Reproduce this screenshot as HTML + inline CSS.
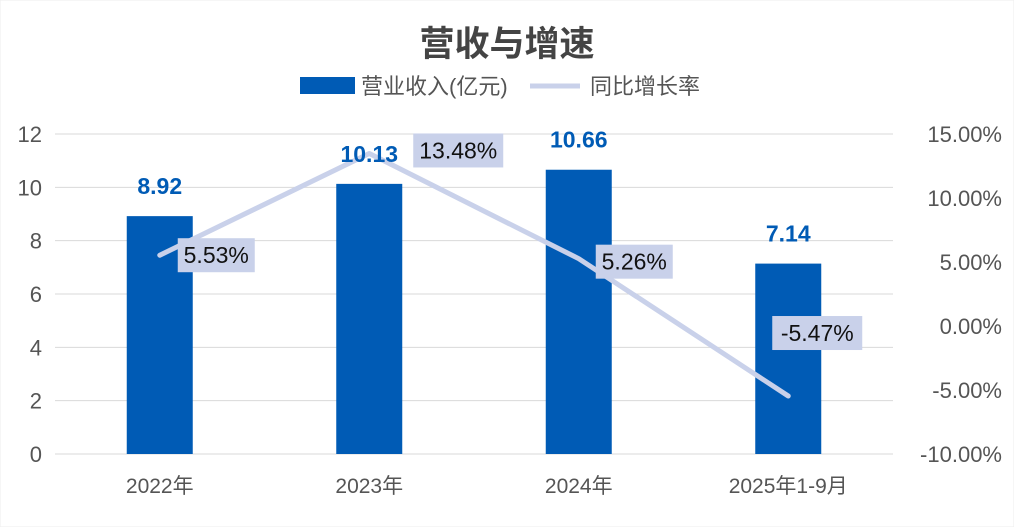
<!DOCTYPE html>
<html><head><meta charset="utf-8"><style>
body{margin:0;background:#fff;}
svg{display:block;font-family:"Liberation Sans","Noto Sans CJK SC",sans-serif;}
</style></head><body>
<svg id="c" width="1014" height="527">
<rect x="0" y="0" width="1014" height="527" fill="#fff" stroke="#eee"/>
<text x="507" y="56" text-anchor="middle" font-size="35" font-weight="bold" fill="#444">营收与增速</text>
<g>
<rect x="300" y="77" width="55" height="17" fill="#005bb5"/>
<text x="361" y="94" font-size="22" fill="#555">营业收入(亿元)</text>
<line x1="530" y1="86" x2="580" y2="86" stroke="#c9d1ea" stroke-width="5"/>
<text x="590" y="94" font-size="22" fill="#555">同比增长率</text>
</g>
<g id="grid"></g><g id="bars"></g><g id="line"></g><g id="labels"></g>
</svg>
<script>
const categories=["2022年","2023年","2024年","2025年1-9月"];
const revenue=[8.92,10.13,10.66,7.14];
const growth=[5.53,13.48,5.26,-5.47];
const leftTicks=[0,2,4,6,8,10,12];
const rightTicks=[-10,-5,0,5,10,15];
const ns="http://www.w3.org/2000/svg";
const X0=55,X1=893,Y0=454,Y1=134;
const step=(X1-X0)/categories.length;
const xc=i=>X0+step*(i+0.5);
const yL=v=>Y0-(v/12)*(Y0-Y1);
const yR=v=>Y0-((v+10)/25)*(Y0-Y1);
function mk(t,a,p,txt){const e=document.createElementNS(ns,t);for(const k in a)e.setAttribute(k,a[k]);if(txt!==undefined)e.textContent=txt;document.getElementById(p).appendChild(e);return e;}
leftTicks.forEach(v=>{
 const l=mk('line',{x1:X0,x2:X1,y1:yL(v),y2:yL(v),stroke:'#d9d9d9','stroke-width':1},'grid');
 
 
 const t=mk('text',{x:42,y:yL(v)+8,'text-anchor':'end','font-size':22,fill:'#555'},'grid',v);
 
 
});
rightTicks.forEach(v=>{
 const t=mk('text',{x:1002,y:yR(v)+8,'text-anchor':'end','font-size':22,fill:'#555'},'grid',v.toFixed(2)+'%');
 
 
});
categories.forEach((c,i)=>{
 const t=mk('text',{x:xc(i),y:493,'text-anchor':'middle','font-size':21,fill:'#555'},'grid',c);
 
 
});
revenue.forEach((v,i)=>{
 const r=mk('rect',{x:xc(i)-33,y:yL(v),width:66,height:Y0-yL(v),fill:'#005bb5'},'bars');
 
 
 const t=mk('text',{x:xc(i),y:yL(v)-22,'text-anchor':'middle','font-size':23,'font-weight':'bold',fill:'#005bb5'},'labels',v.toFixed(2));
 
 
});
const pl=mk('polyline',{points:growth.map((g,i)=>xc(i)+','+yR(g)).join(' '),fill:'none',stroke:'#c9d1ea','stroke-width':5,'stroke-linejoin':'round','stroke-linecap':'round'},'line');


const offs=[[18,-17],[44,-20],[17,-14],[-16,-80]];
growth.forEach((g,i)=>{
 const s=(g.toFixed(2))+'%';
 const w=s.length*13+12;
 const bx=xc(i)+offs[i][0], by=yR(g)+offs[i][1];
 const b=mk('rect',{x:bx,y:by,width:w,height:34,fill:'#c9d1ea'},'labels');
 
 
 const t=mk('text',{x:bx+w/2,y:by+25,'text-anchor':'middle','font-size':23,fill:'#111'},'labels',s);
 
 
});
</script>
</body></html>
